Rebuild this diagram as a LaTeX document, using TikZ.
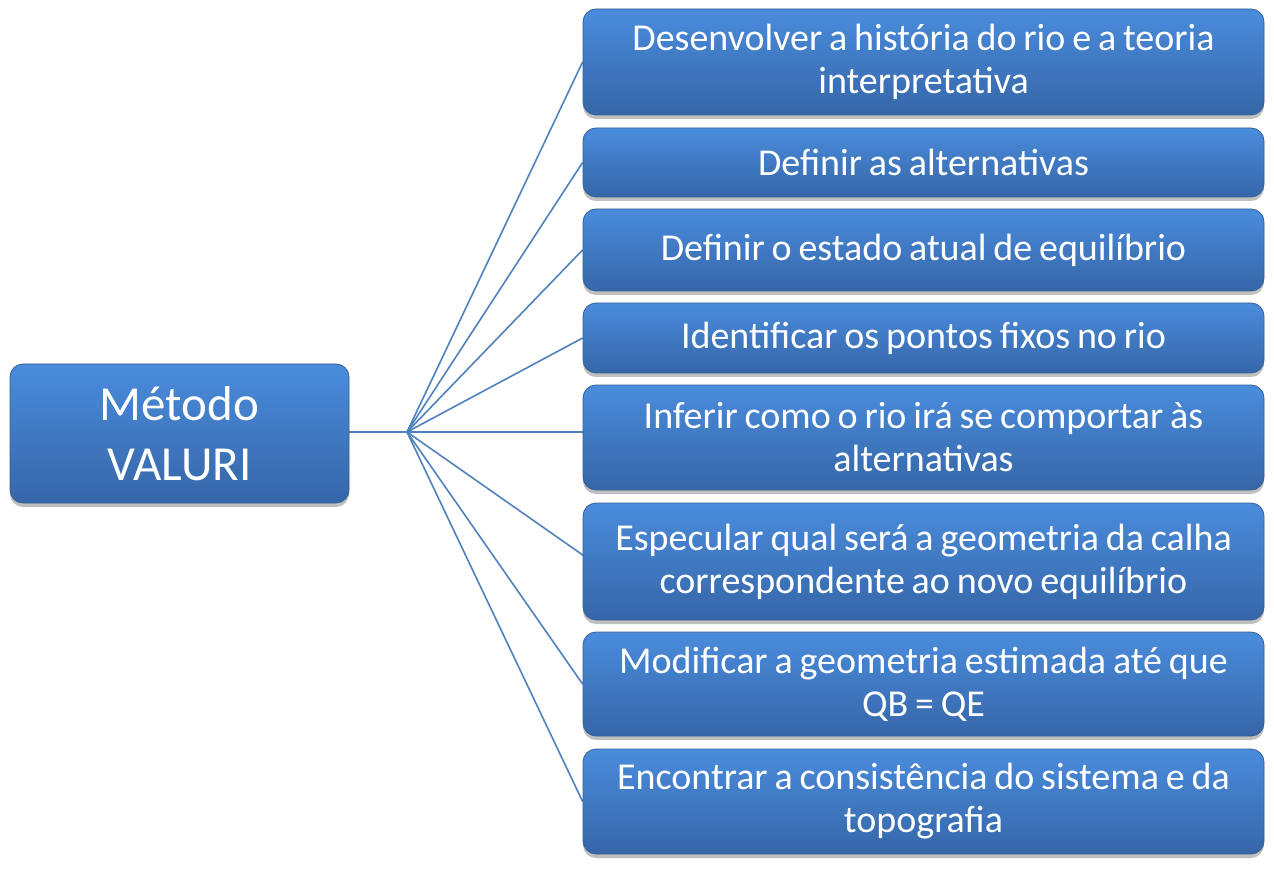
\documentclass[tikz,border=0pt]{standalone}
\usepackage{fontspec}
\setmainfont{Carlito}
\usetikzlibrary{shadows,calc}
\pgfdeclarelayer{background}
\pgfsetlayers{background,main}
\definecolor{boxtop}{RGB}{74,140,220}
\definecolor{boxbot}{RGB}{54,102,168}
\definecolor{boxedge}{RGB}{55,95,150}
\definecolor{linkc}{RGB}{79,129,189}
\tikzset{
  boxbase/.style={rectangle, rounded corners=13pt, draw=boxedge, line width=0.8pt,
    top color=boxtop, bottom color=boxbot, text=white, align=center,
    inner sep=0pt, drop shadow={shadow xshift=0pt, shadow yshift=-4pt, fill=black, opacity=0.25},
    execute at begin node={\spaceskip=0.18em\relax\xspaceskip=0.18em\relax}},
  stepbox/.style={boxbase, minimum width=681pt, text width=670pt,
    font=\fontsize{38}{43}\selectfont},
  mainbox/.style={boxbase, minimum width=339pt, minimum height=139pt, text width=320pt,
    font=\fontsize{49}{60}\selectfont},
  link/.style={draw=linkc, line width=1.6pt}
}
\begin{document}
\begin{tikzpicture}[x=1pt,y=-1pt]
\useasboundingbox (0,0) rectangle (1274,882);
\node[mainbox] (m) at (179.5,433.5) {Método\\VALURI};
\node[stepbox, minimum height=106pt] (b1) at (923.5,62) {Desenvolver a história do rio e a teoria\\interpretativa};
\node[stepbox, minimum height=69pt] (b2) at (923.5,162.5) {Definir as alternativas};
\node[stepbox, minimum height=82pt] (b3) at (923.5,250) {Definir o estado atual de equilíbrio};
\node[stepbox, minimum height=70pt] (b4) at (923.5,338) {Identificar os pontos fixos no rio};
\node[stepbox, minimum height=105pt] (b5) at (923.5,437.5) {Inferir como o rio irá se comportar às\\alternativas};
\node[stepbox, minimum height=117pt] (b6) at (923.5,561.5) {Especular qual será a geometria da calha\\correspondente ao novo equilíbrio};
\node[stepbox, minimum height=104pt] (b7) at (923.5,684) {Modificar a geometria estimada até que\\QB = QE};
\node[stepbox, minimum height=105pt] (b8) at (923.5,801.5) {Encontrar a consistência do sistema e da\\topografia};
\coordinate (hub) at (407,432);
\coordinate (c6) at (607,572);
\begin{pgfonlayer}{background}
\draw[link] (m.east |- hub) -- (hub);
\draw[link] (hub) -- (b1.west);
\draw[link] (hub) -- (b2.west);
\draw[link] (hub) -- (b3.west);
\draw[link] (hub) -- (b4.west);
\draw[link] (hub) -- (b5.west |- hub);
\draw[link] (hub) -- (c6);
\draw[link] (hub) -- (b7.west);
\draw[link] (hub) -- (b8.west);
\end{pgfonlayer}
\end{tikzpicture}
\end{document}
